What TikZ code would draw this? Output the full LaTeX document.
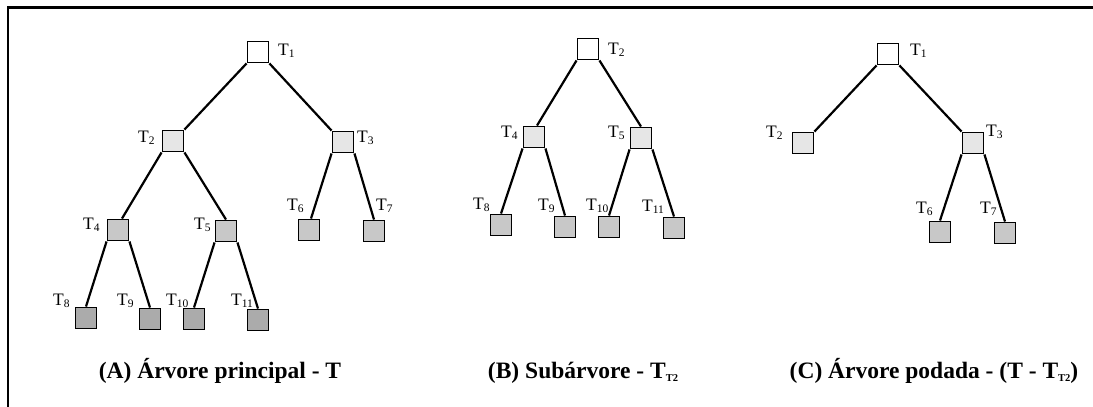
\documentclass[tikz,border=0pt]{standalone}
\usepackage{fontspec}
\setmainfont{Liberation Serif}
\newcommand{\Tsub}[1]{T\raisebox{-2pt}{\fontsize{11.5}{11.5}\selectfont #1}}
\newcommand{\Csub}[1]{\raisebox{-3pt}{\fontsize{10.5}{10.5}\selectfont #1}}
\definecolor{gA}{HTML}{E6E6E6}
\definecolor{gB}{HTML}{C8C8C8}
\definecolor{gC}{HTML}{ABABAB}
\begin{document}
\begin{tikzpicture}[x=1pt,y=-1pt,
  box/.style={draw, line width=1.9pt, minimum size=21pt, inner sep=0pt},
  w/.style={box, fill=white},
  l1/.style={box, fill=gA},
  l2/.style={box, fill=gB},
  l3/.style={box, fill=gC},
  edge/.style={line width=2.2pt},
  lab/.style={anchor=base west, inner sep=0pt, font=\fontsize{17.5}{17.5}\selectfont},
  captxt/.style={anchor=base, inner sep=0pt, font=\fontsize{23.5}{23.5}\selectfont\bfseries}]
\useasboundingbox (0,0) rectangle (1093,407);
\draw[line width=2.6pt] (1093,7.5) -- (8,7.5) -- (8,407);

% ---------- Tree A ----------
\node[w]  (a1)  at (258,52)  {};
\node[l1] (a2)  at (173,141) {};
\node[l1] (a3)  at (343,142) {};
\node[l2] (a4)  at (118,230) {};
\node[l2] (a5)  at (226,231) {};
\node[l2] (a6)  at (309,230) {};
\node[l2] (a7)  at (374,231) {};
\node[l3] (a8)  at (86,318)  {};
\node[l3] (a9)  at (150,319) {};
\node[l3] (a10) at (194,319) {};
\node[l3] (a11) at (258,320) {};
\draw[edge] (a1.south west) -- (a2.north east);
\draw[edge] (a1.south east) -- (a3.north west);
\draw[edge] (a2.south west) -- ([xshift=4pt]a4.north);
\draw[edge] (a2.south east) -- (a5.north);
\draw[edge] (a3.south west) -- ([xshift=2pt]a6.north);
\draw[edge] (a3.south east) -- (a7.north);
\draw[edge] (a4.south west) -- (a8.north);
\draw[edge] (a4.south east) -- (a9.north);
\draw[edge] (a5.south west) -- (a10.north);
\draw[edge] (a5.south east) -- (a11.north);
\node[lab] (la1)  at (278,55)  {\Tsub{1}};
\node[lab] (la2)  at (138,142) {\Tsub{2}};
\node[lab] (la3)  at (357,142) {\Tsub{3}};
\node[lab] (la4)  at (83,229)  {\Tsub{4}};
\node[lab] (la5)  at (194,229) {\Tsub{5}};
\node[lab] (la6)  at (287,210) {\Tsub{6}};
\node[lab] (la7)  at (376,210) {\Tsub{7}};
\node[lab] (la8)  at (53,305)  {\Tsub{8}};
\node[lab] (la9)  at (117,305) {\Tsub{9}};
\node[lab] (la10) at (166,305) {\Tsub{10}};
\node[lab] (la11) at (231,305) {\Tsub{11}};

% ---------- Tree B ----------
\node[w]  (b2)  at (588,49)  {};
\node[l1] (b4)  at (534,137) {};
\node[l1] (b5)  at (641,138) {};
\node[l2] (b8)  at (501,225) {};
\node[l2] (b9)  at (565,227) {};
\node[l2] (b10) at (609,227) {};
\node[l2] (b11) at (674,228) {};
\draw[edge] (b2.south west) -- ([xshift=3pt]b4.north);
\draw[edge] (b2.south east) -- (b5.north);
\draw[edge] (b4.south west) -- (b8.north);
\draw[edge] (b4.south east) -- (b9.north);
\draw[edge] (b5.south west) -- (b10.north);
\draw[edge] (b5.south east) -- (b11.north);
\node[lab] (lb2)  at (608,54)  {\Tsub{2}};
\node[lab] (lb4)  at (501,137) {\Tsub{4}};
\node[lab] (lb5)  at (608,137) {\Tsub{5}};
\node[lab] (lb8)  at (473,209) {\Tsub{8}};
\node[lab] (lb9)  at (538,210) {\Tsub{9}};
\node[lab] (lb10) at (586,210) {\Tsub{10}};
\node[lab] (lb11) at (642,211) {\Tsub{11}};

% ---------- Tree C ----------
\node[w]  (c1) at (888,54)   {};
\node[l1] (c2) at (803,143)  {};
\node[l1] (c3) at (973,143)  {};
\node[l2] (c6) at (940,232)  {};
\node[l2] (c7) at (1005,233) {};
\draw[edge] (c1.south west) -- (c2.north east);
\draw[edge] (c1.south east) -- (c3.north west);
\draw[edge] (c3.south west) -- (c6.north);
\draw[edge] (c3.south east) -- (c7.north);
\node[lab] (lc1) at (910,55)  {\Tsub{1}};
\node[lab] (lc2) at (766,137) {\Tsub{2}};
\node[lab] (lc3) at (986,136) {\Tsub{3}};
\node[lab] (lc6) at (916,213) {\Tsub{6}};
\node[lab] (lc7) at (980,213) {\Tsub{7}};

% ---------- Captions ----------
\node[captxt] (capA) at (220,378) {(A) Árvore principal - T};
\node[captxt] (capB) at (583,378) {(B) Subárvore - T\Csub{T2}};
\node[captxt] (capC) at (934,378) {(C) Árvore podada - (T - T\Csub{T2})};
\end{tikzpicture}
\end{document}
